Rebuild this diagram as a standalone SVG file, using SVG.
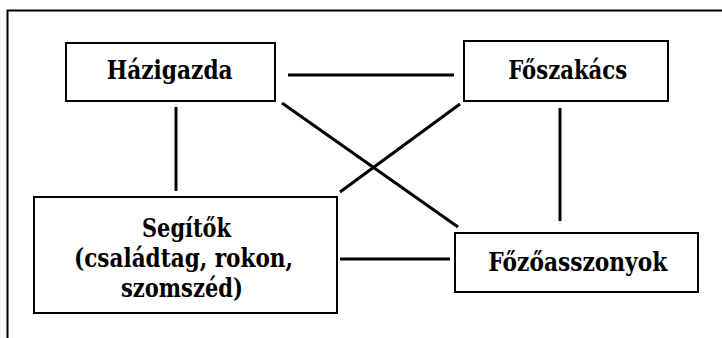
<svg xmlns="http://www.w3.org/2000/svg" width="722" height="338" viewBox="0 0 722 338">
<style>
.box{fill:#fff;stroke:#000;stroke-width:2}
.lbl{font-family:"DejaVu Serif",serif;font-weight:bold;font-size:25.5px;fill:#000;text-anchor:middle}
.con line{stroke:#000;stroke-width:3}
</style>
<rect width="722" height="338" fill="#fff"/>
<path d="M7.5 338 V10.5 H722" fill="none" stroke="#000" stroke-width="2"/>
<g id="connectors" class="con">
<line x1="288" y1="75" x2="454" y2="75"/>
<line x1="176" y1="107" x2="176" y2="191"/>
<line x1="282" y1="103" x2="458" y2="227"/>
<line x1="460" y1="104" x2="340" y2="192"/>
<line x1="560" y1="108" x2="560" y2="221"/>
<line x1="340" y1="259" x2="450" y2="259"/>
</g>
<g id="hazigazda">
<rect class="box" x="66" y="43" width="209" height="58"/>
<text class="lbl" x="169.7" y="78.5" textLength="126" lengthAdjust="spacingAndGlyphs">Házigazda</text>
</g>
<g id="foszakacs">
<rect class="box" x="464" y="41" width="204" height="60"/>
<text class="lbl" x="567.7" y="78.5" textLength="119" lengthAdjust="spacingAndGlyphs">Főszakács</text>
</g>
<g id="segitok">
<rect class="box" x="34" y="197" width="303" height="116"/>
<text class="lbl" x="186.5" y="236.5" textLength="89" lengthAdjust="spacingAndGlyphs">Segítők</text>
<text class="lbl" x="183.5" y="266.5" textLength="219" lengthAdjust="spacingAndGlyphs">(családtag, rokon,</text>
<text class="lbl" x="182" y="297" textLength="122" lengthAdjust="spacingAndGlyphs">szomszéd)</text>
</g>
<g id="fozoasszonyok">
<rect class="box" x="455" y="233" width="243" height="59"/>
<text class="lbl" x="577.8" y="270.5" textLength="179" lengthAdjust="spacingAndGlyphs">Főzőasszonyok</text>
</g>
</svg>
